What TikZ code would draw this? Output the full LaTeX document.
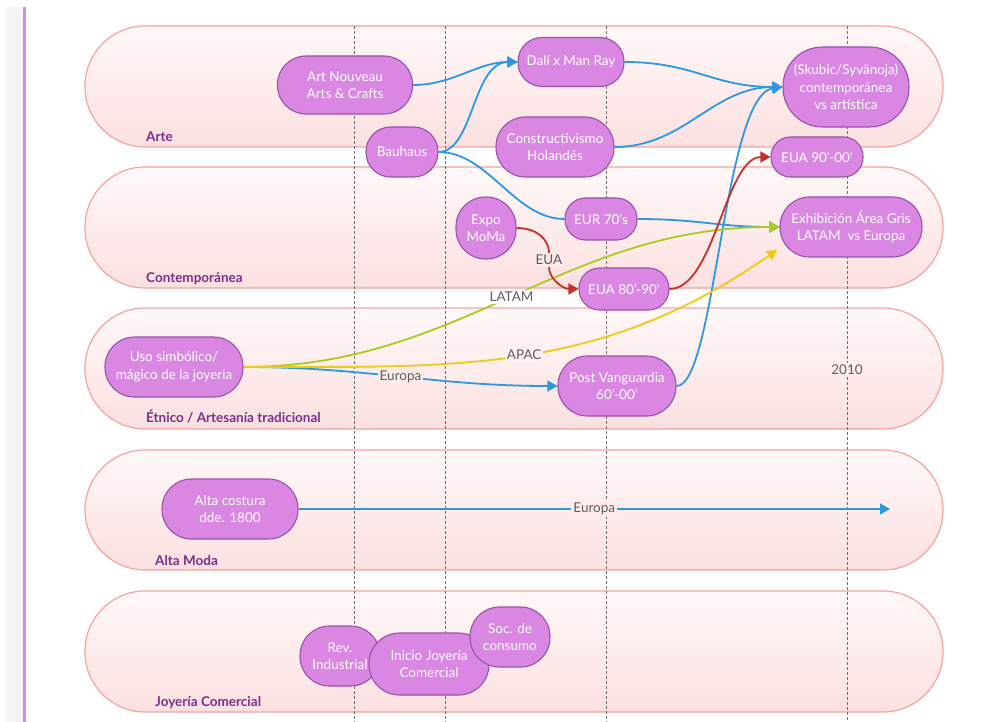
\documentclass[tikz,border=0pt]{standalone}
\usepackage{fontspec}
\setmainfont{Lato}
\usetikzlibrary{arrows.meta}
\definecolor{nodefill}{HTML}{D987E3}
\definecolor{nodebd}{HTML}{9A52A8}
\definecolor{lanebd}{HTML}{F4A3A3}
\definecolor{lanetop}{HTML}{FFF8F8}
\definecolor{lanebot}{HTML}{FCE0E0}
\definecolor{lanelbl}{HTML}{7B2F8F}
\definecolor{eblue}{HTML}{2C98DF}
\definecolor{ered}{HTML}{C63129}
\definecolor{egreen}{HTML}{A9CB1F}
\definecolor{eyellow}{HTML}{F2C817}
\definecolor{dashgray}{HTML}{6E6E6E}
\definecolor{lblgray}{HTML}{5E5E5E}
\definecolor{stripgray}{HTML}{F5F5F5}
\definecolor{stripline}{HTML}{CF8FE6}
\begin{document}
\begin{tikzpicture}[x=1pt,y=-1pt,
  box/.style={rectangle, draw=nodebd, line width=1.1pt, fill=nodefill, text=white, align=center,
    font=\fontsize{13.5}{17.5}\selectfont, inner xsep=2pt, inner ysep=1pt},
  pill/.style n args={3}{box, minimum width=#1pt, minimum height=#2pt, rounded corners=#3pt},
  lane/.style={draw=lanebd, line width=1.2pt, top color=lanetop, bottom color=lanebot, rounded corners=60pt},
  lanelabel/.style={anchor=base west, text=lanelbl, font=\fontsize{13.5}{15}\selectfont\bfseries, inner sep=0pt},
  gridline/.style={dashgray, line width=1pt, dash pattern=on 3pt off 2pt},
  conn/.style={line width=1.8pt, -{Triangle[length=10pt,width=11pt]}},
  plainconn/.style={line width=1.8pt},
  elabel/.style={text=lblgray, font=\fontsize{13.5}{15}\selectfont, inner sep=2pt},
]
\useasboundingbox (0,0) rectangle (988,722);
\fill[white] (0,0) rectangle (988,722);
% left strip
\fill[stripgray] (5,7) rectangle (23,722);
\draw[stripline, line width=2.5pt] (24.5,7) -- (24.5,722);

% lanes
\path[lane] (85,26) rectangle (943,147);
\path[lane] (85,167) rectangle (943,288);
\path[lane] (85,308) rectangle (943,429);
\path[lane] (85,450) rectangle (943,570);
\path[lane] (85,591) rectangle (943,712);

\node[lanelabel] (lArte) at (146,142) {Arte};
\node[lanelabel] (lCont) at (146,282) {Contemporánea};
\node[lanelabel] (lEtn) at (146,422) {Étnico / Artesanía tradicional};
\node[lanelabel] (lAlta) at (155,565) {Alta Moda};
\node[lanelabel] (lJoy) at (155,706) {Joyería Comercial};

% timeline grid
\foreach \gx in {354,445,606} \draw[gridline] (\gx,26) -- (\gx,722);
\node[elabel] (y2010) at (847,370) {2010};
\draw[gridline] (847,26) -- (y2010.north);
\draw[gridline] (y2010.south) -- (847,722);

% nodes
\node[pill={135}{58}{28.5}] (an) at (345,85) {Art Nouveau\\Arts \& Crafts};
\node[pill={72}{50}{24.5}] (bau) at (402,152) {Bauhaus};
\node[pill={106}{49}{24}] (dali) at (571,62) {Dalí x Man Ray};
\node[pill={118}{60}{29.5}] (con) at (555,147) {Constructivismo\\Holandés};
\node[pill={126}{80}{39.5}] (sk) at (846,87) {(Skubic/Syvänoja)\\contemporánea\\vs artística};
\node[pill={92}{40}{19.5}] (eua9) at (817,157) {EUA 90'-00'};
\node[pill={60}{62}{29.5}] (expo) at (486,228) {Expo\\MoMa};
\node[pill={72}{42}{20.5}] (eur) at (601,219) {EUR 70's};
\node[pill={90}{42}{20.5}] (eua8) at (624,289) {EUA 80'-90'};
\node[pill={142}{60}{29.5}] (exh) at (851,227) {Exhibición Área Gris\\LATAM\ \ vs Europa};
\node[pill={138}{60}{29.5}] (uso) at (174,367) {Uso simbólico/\\mágico de la joyeria};
\node[pill={118}{60}{29.5}] (pv) at (617,386) {Post Vanguardia\\60'-00'};
\node[pill={136}{60}{29.5}] (alta) at (230,509) {Alta costura\\dde. 1800};

\coordinate (yend) at (777,250);
\coordinate (aend) at (890,509);
\node[elabel, fill=lanetop!40!lanebot] (eual) at (549,260) {EUA};

% connectors
\draw[conn, eblue] (an.east) .. controls +(40,0) and +(-40,0) .. (dali.west);
\draw[conn, eblue] (bau.east) .. controls +(35,0) and +(-45,0) .. (dali.west);
\draw[plainconn, eblue] (bau.east) .. controls +(50,0) and +(-50,0) .. (eur.west);
\draw[conn, eblue] (dali.east) .. controls +(70,0) and +(-70,0) .. (sk.west);
\draw[conn, eblue] (con.east) .. controls +(70,0) and +(-70,0) .. (sk.west);
\draw[conn, eblue] (eur.east) .. controls +(60,0) and +(-60,0) .. (exh.west);
\draw[conn, eblue] (pv.east) .. controls +(39,0) and +(-59,8) .. (sk.west);
\draw[conn, eblue] (uso.east) .. controls +(124,0) and +(-124,0) .. (pv.west)
  node[elabel, pos=0.5, fill=lanetop!45!lanebot] {Europa};
\draw[conn, egreen] (uso.east) .. controls +(218,0) and +(-218,0) .. (exh.west)
  node[elabel, pos=0.5, fill=white] {LATAM};
\draw[conn, eyellow] (uso.east) .. controls +(214,0) and +(-177,124) .. (yend)
  node[elabel, pos=0.5, fill=lanetop!75!lanebot] {APAC};
\draw[plainconn, ered] (expo.east) .. controls +(22,0) and +(0,-12) .. (eual.north);
\draw[conn, ered] (eual.south) .. controls +(0,12) and +(-15,0) .. (eua8.west);
\draw[conn, ered] (eua8.east) .. controls +(45,0) and +(-45,0) .. (eua9.west);
\draw[conn, eblue] (alta.east) -- (aend)
  node[elabel, pos=0.5, fill=lanetop!50!lanebot] {Europa};

% bottom lane nodes
\node[pill={80}{60}{29.5}] (rev) at (340,656) {Rev.\\Industrial};
\node[pill={120}{62}{30.5}] (ini) at (429,664) {Inicio Joyería\\Comercial};
\node[pill={80}{60}{29.5}] (soc) at (510,637) {Soc. de\\consumo};
\end{tikzpicture}
\end{document}
